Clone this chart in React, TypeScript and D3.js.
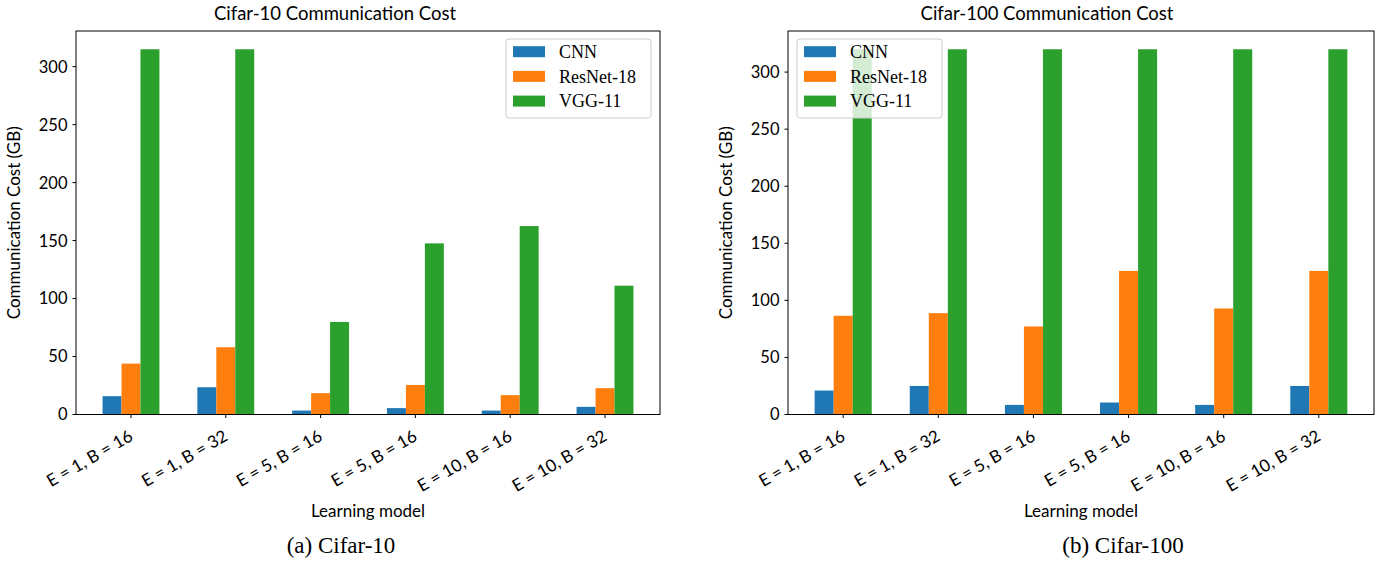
import React from "react";
import * as d3 from "d3";

const categories = [
  "E = 1, B = 16",
  "E = 1, B = 32",
  "E = 5, B = 16",
  "E = 5, B = 16",
  "E = 10, B = 16",
  "E = 10, B = 32",
];
const seriesNames = ["CNN", "ResNet-18", "VGG-11"];
const seriesColors = ["#1f77b4", "#ff7f0e", "#2ca02c"];

const cifar10CNN = [15.8, 23.5, 3.4, 5.5, 3.4, 6.6];
const cifar10ResNet = [43.9, 58, 18.4, 25.5, 16.7, 22.7];
const cifar10VGG = [315, 315, 79.8, 147.6, 162.5, 111.1];

const cifar100CNN = [21, 25, 8.4, 10.5, 8.4, 25];
const cifar100ResNet = [86.5, 88.8, 77.1, 125.8, 92.9, 125.8];
const cifar100VGG = [320, 320, 320, 320, 320, 320];

const yTicks = [0, 50, 100, 150, 200, 250, 300];

const SANS = "Lato, 'Noto Sans', sans-serif";
const SERIF = "'Liberation Serif', 'DejaVu Serif', serif";

type ChartProps = {
  left: number;
  right: number;
  title: string;
  titleX: number;
  caption: string;
  captionX: number;
  series: number[][];
  legendLoc: "left" | "right";
};

function Chart({ left, right, title, titleX, caption, captionX, series, legendLoc }: ChartProps) {
  const top = 31;
  const bottom = 414.5;
  const barW = 0.2;
  const n = categories.length;
  const xMin = -1.5 * barW;
  const xMax = n - 1 + 1.5 * barW;
  const pad = (xMax - xMin) * 0.05;
  const x = d3.scaleLinear().domain([xMin - pad, xMax + pad]).range([left, right]);
  const allMax = d3.max(series.flat()) as number;
  const y = d3.scaleLinear().domain([0, allMax * 1.05]).range([bottom, top]);
  const cx = (left + right) / 2;
  const cy = (top + bottom) / 2;

  const legW = 145;
  const legH = 79;
  const legX = legendLoc === "right" ? right - 9 - legW : left + 9;
  const legY = top + 8;

  return (
    <g>
      <text x={titleX} y={20} textAnchor="middle" fontFamily={SANS} fontSize={18.5} fill="#000">
        {title}
      </text>
      {series.map((vals, k) =>
        vals.map((v, i) => {
          const x0 = x(i + (k - 1) * barW - barW / 2);
          const x1 = x(i + (k - 1) * barW + barW / 2);
          return (
            <rect
              key={`b${k}-${i}`}
              x={x0}
              y={y(v)}
              width={x1 - x0}
              height={y(0) - y(v)}
              fill={seriesColors[k]}
            />
          );
        })
      )}
      <rect x={left} y={top} width={right - left} height={bottom - top} fill="none" stroke="#000" strokeWidth={1} />
      {yTicks.map((t) => (
        <g key={`yt${t}`}>
          <line x1={left - 3.5} x2={left} y1={y(t)} y2={y(t)} stroke="#000" strokeWidth={1} />
          <text
            x={left - 8.5}
            y={y(t)}
            dy="0.36em"
            textAnchor="end"
            fontFamily={SANS}
            fontSize={16.5}
            fill="#000"
          >
            {t}
          </text>
        </g>
      ))}
      {categories.map((c, i) => (
        <g key={`xt${i}`}>
          <line x1={x(i)} x2={x(i)} y1={bottom} y2={bottom + 3.5} stroke="#000" strokeWidth={1} />
          <text
            transform={`translate(${x(i) + 3},${bottom + 25}) rotate(-30)`}
            textAnchor="end"
            fontFamily={SANS}
            fontSize={17}
            fill="#000"
          >
            {c}
          </text>
        </g>
      ))}
      <text
        transform={`translate(${left - 56},${cy}) rotate(-90)`}
        textAnchor="middle"
        fontFamily={SANS}
        fontSize={17}
        fill="#000"
      >
        Communication Cost (GB)
      </text>
      <text x={cx} y={517} textAnchor="middle" fontFamily={SANS} fontSize={17} fill="#000">
        Learning model
      </text>
      <text x={captionX} y={553} textAnchor="middle" fontFamily={SERIF} fontSize={23} fill="#000">
        {caption}
      </text>
      <g>
        <rect
          x={legX}
          y={legY}
          width={legW}
          height={legH}
          rx={3}
          fill="#fff"
          fillOpacity={0.8}
          stroke="#cccccc"
          strokeWidth={1}
        />
        {seriesNames.map((s, k) => {
          const ry = legY + 12.7 + k * 24.7;
          return (
            <g key={`lg${k}`}>
              <rect x={legX + 7} y={ry - 5.5} width={32} height={11} fill={seriesColors[k]} />
              <text
                x={legX + 53}
                y={ry}
                dy="0.35em"
                fontFamily={SERIF}
                fontSize={18}
                fill="#000"
              >
                {s}
              </text>
            </g>
          );
        })}
      </g>
    </g>
  );
}

export default function App() {
  return (
    <svg
      width={1384}
      height={564}
      viewBox="0 0 1384 564"
      style={{ position: "absolute", left: 0, top: 0, display: "block", background: "#fff" }}
    >
      <rect x={0} y={0} width={1384} height={564} fill="#fff" />
      <Chart
        left={76}
        right={660}
        title="Cifar-10 Communication Cost"
        titleX={335}
        caption="(a) Cifar-10"
        captionX={341}
        series={[cifar10CNN, cifar10ResNet, cifar10VGG]}
        legendLoc="right"
      />
      <Chart
        left={788}
        right={1374}
        title="Cifar-100 Communication Cost"
        titleX={1047}
        caption="(b) Cifar-100"
        captionX={1123}
        series={[cifar100CNN, cifar100ResNet, cifar100VGG]}
        legendLoc="left"
      />
    </svg>
  );
}
